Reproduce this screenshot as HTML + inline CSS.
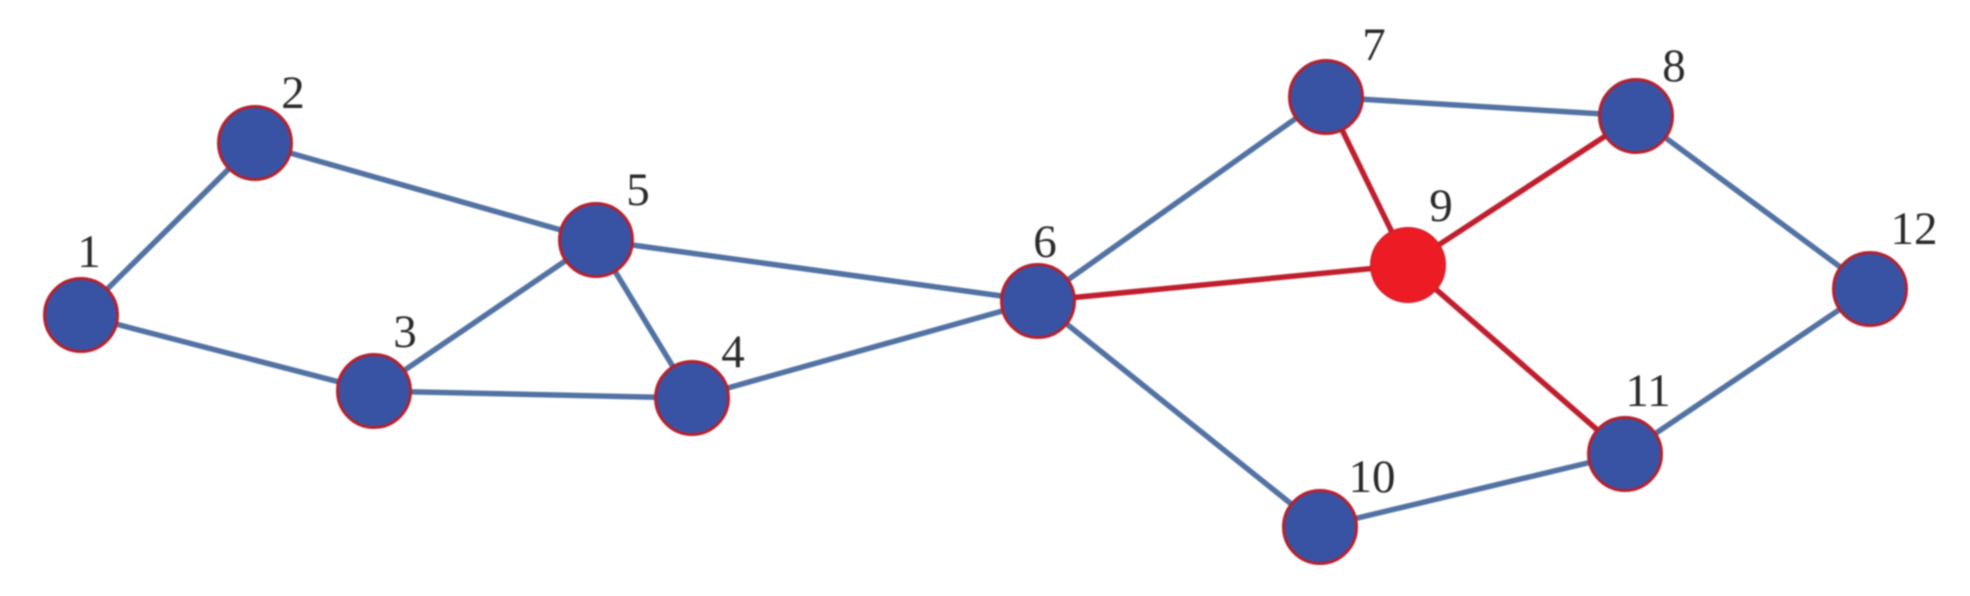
<!DOCTYPE html>
<html>
<head>
<meta charset="utf-8">
<style>
html,body{margin:0;padding:0;background:#fff;}
svg{display:block;}
text{font-family:"Liberation Serif",serif;font-size:47px;fill:#2a2a2a;text-anchor:middle;}
</style>
</head>
<body>
<svg width="1970" height="596" viewBox="0 0 1970 596" xmlns="http://www.w3.org/2000/svg">
<rect width="1970" height="596" fill="#fff"/>
<g style="filter:blur(0.7px)">
<g stroke="#5272a3" stroke-width="5.5" fill="none">
<line x1="81" y1="315" x2="255" y2="143"/>
<line x1="81" y1="315" x2="374" y2="391"/>
<line x1="255" y1="143" x2="596" y2="240"/>
<line x1="374" y1="391" x2="596" y2="240"/>
<line x1="374" y1="391" x2="692" y2="398"/>
<line x1="596" y1="240" x2="692" y2="398"/>
<line x1="596" y1="240" x2="1038" y2="301"/>
<line x1="692" y1="398" x2="1038" y2="301"/>
<line x1="1038" y1="301" x2="1326" y2="97"/>
<line x1="1038" y1="301" x2="1320" y2="527"/>
<line x1="1326" y1="97" x2="1636" y2="116"/>
<line x1="1636" y1="116" x2="1870" y2="289"/>
<line x1="1320" y1="527" x2="1625" y2="454"/>
<line x1="1625" y1="454" x2="1870" y2="289"/>
</g>
<g stroke="#bf1e2d" stroke-width="5.5" fill="none">
<line x1="1038" y1="301" x2="1408" y2="265"/>
<line x1="1326" y1="97" x2="1408" y2="265"/>
<line x1="1636" y1="116" x2="1408" y2="265"/>
<line x1="1625" y1="454" x2="1408" y2="265"/>
</g>
<g fill="#3953a4" stroke="#b5202e" stroke-width="3">
<circle cx="81" cy="315" r="36.5"/>
<circle cx="255" cy="143" r="36.5"/>
<circle cx="374" cy="391" r="36.5"/>
<circle cx="692" cy="398" r="36.5"/>
<circle cx="596" cy="240" r="36.5"/>
<circle cx="1038" cy="301" r="36.5"/>
<circle cx="1326" cy="97" r="36.5"/>
<circle cx="1636" cy="116" r="36.5"/>
<circle cx="1320" cy="527" r="36.5"/>
<circle cx="1625" cy="454" r="36.5"/>
<circle cx="1870" cy="289" r="36.5"/>
</g>
<circle cx="1408" cy="265" r="37" fill="#ed1c24" stroke="#d8202a" stroke-width="2"/>
<text x="89" y="267">1</text>
<text x="293" y="108">2</text>
<text x="405" y="347">3</text>
<text x="733" y="367">4</text>
<text x="638" y="205">5</text>
<text x="1045" y="257">6</text>
<text x="1374" y="60">7</text>
<text x="1674" y="81">8</text>
<text x="1441" y="221">9</text>
<text x="1372" y="492">10</text>
<text x="1648" y="406">11</text>
<text x="1914" y="244">12</text>
</g>
</svg>
</body>
</html>
